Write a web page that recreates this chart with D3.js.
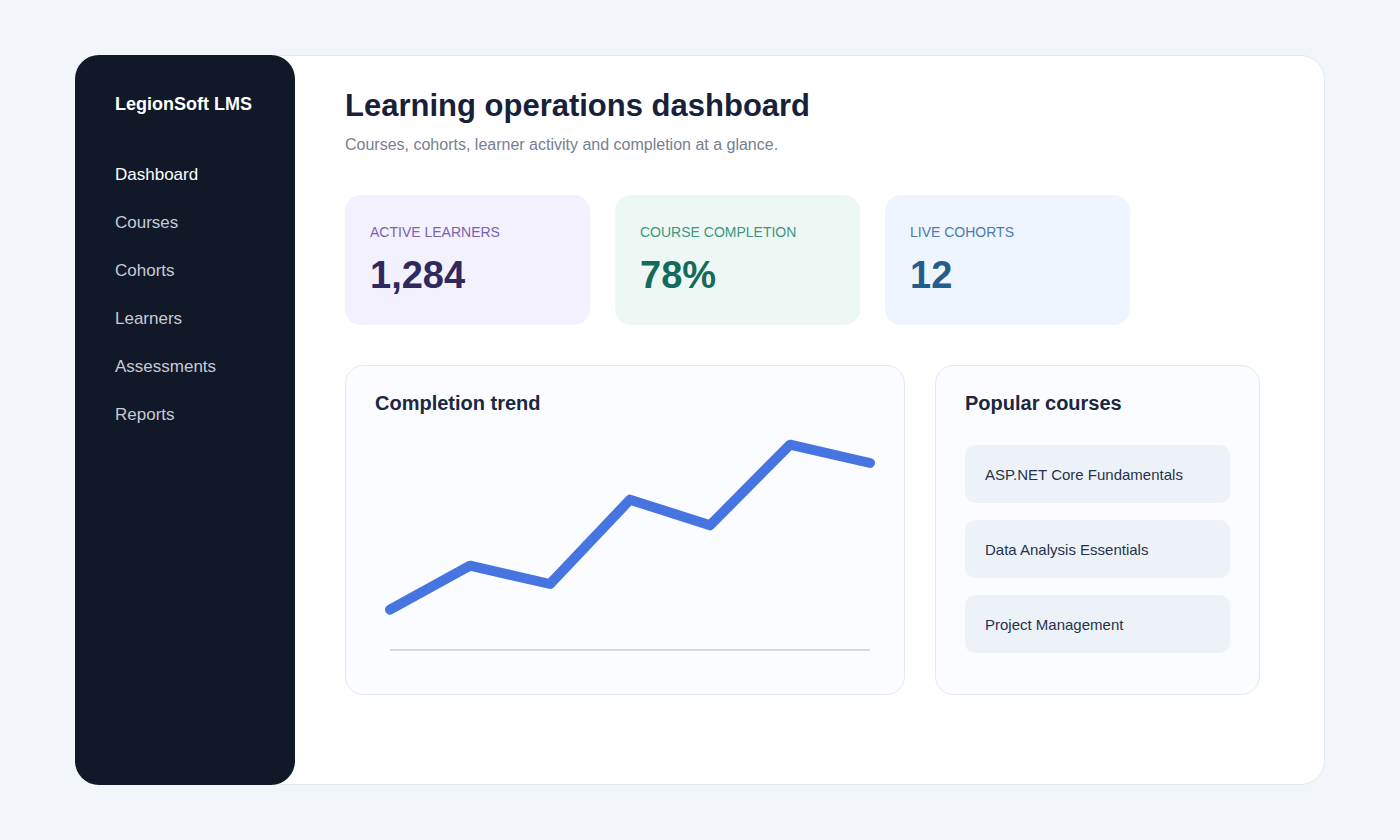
<!DOCTYPE html>
<html>
<head>
<meta charset="utf-8">
<script src="https://cdn.jsdelivr.net/npm/d3@7"></script>
<style>
  body { margin: 0; background: #f2f5fa; font-family: "Liberation Sans", Arial, sans-serif; }
</style>
</head>
<body>
<svg id="chart" width="1400" height="840"></svg>
<script>
'use strict';

const navItems = ['Dashboard', 'Courses', 'Cohorts', 'Learners', 'Assessments', 'Reports'];
const kpiLabels = ['ACTIVE LEARNERS', 'COURSE COMPLETION', 'LIVE COHORTS'];
const kpiValues = ['1,284', '78%', '12'];
const kpiColors = [
  {bg: '#f4f1fe', label: '#7a62b3', value: '#2f2960'},
  {bg: '#edf8f5', label: '#3f9580', value: '#146a5c'},
  {bg: '#eef5fe', label: '#4a7bb0', value: '#245c8c'}
];
const trendPeriods = [1, 2, 3, 4, 5, 6, 7];
const trendValues = [51, 63, 58, 81, 74, 96, 91];
const popularCourses = ['ASP.NET Core Fundamentals', 'Data Analysis Essentials', 'Project Management'];

const svg = d3.select('#chart');

// main card
svg.append('rect').attr('x', 75.5).attr('y', 55.5).attr('width', 1249).attr('height', 729)
  .attr('rx', 24).attr('fill', '#fff').attr('stroke', '#e3e8ef');

// sidebar
svg.append('rect').attr('x', 75).attr('y', 55).attr('width', 220).attr('height', 730).attr('rx', 24).attr('fill', '#111827');

svg.append('text').attr('x', 115).attr('y', 110).text('LegionSoft LMS')
  .attr('fill', '#fff').attr('font-size', 18).attr('font-weight', 'bold');

svg.selectAll('.nav').data(navItems).join('text')
  .attr('x', 115).attr('y', (d, i) => 180 + i * 48)
  .attr('fill', (d, i) => i === 0 ? '#ffffff' : '#c5cbd6')
  .attr('font-size', 17).text(d => d);

// header
svg.append('text').attr('x', 345).attr('y', 116).text('Learning operations dashboard')
  .attr('fill', '#17213a').attr('font-size', 31).attr('font-weight', 'bold');
svg.append('text').attr('x', 345).attr('y', 150).text('Courses, cohorts, learner activity and completion at a glance.')
  .attr('fill', '#768093').attr('font-size', 16);

// KPI cards
const kpi = svg.selectAll('.kpi').data(kpiLabels).join('g')
  .attr('transform', (d, i) => `translate(${345 + i * 270},195)`);
kpi.append('rect').attr('width', 245).attr('height', 130).attr('rx', 16)
  .attr('fill', (d, i) => kpiColors[i].bg);
kpi.append('text').attr('x', 25).attr('y', 42).text(d => d)
  .attr('fill', (d, i) => kpiColors[i].label).attr('font-size', 14);
kpi.append('text').attr('x', 25).attr('y', 93).text((d, i) => kpiValues[i])
  .attr('fill', (d, i) => kpiColors[i].value).attr('font-size', 38).attr('font-weight', 'bold');

// trend panel
svg.append('rect').attr('x', 345.5).attr('y', 365.5).attr('width', 559).attr('height', 329)
  .attr('rx', 18).attr('fill', '#fafcff').attr('stroke', '#e3e8ef');
svg.append('text').attr('x', 375).attr('y', 410).text('Completion trend')
  .attr('fill', '#1c2740').attr('font-size', 20).attr('font-weight', 'bold');

const x = d3.scaleLinear().domain([1, 7]).range([390, 870]);
const y = d3.scaleLinear().domain([40, 100]).range([650, 430]);

svg.append('line').attr('x1', 390).attr('x2', 870).attr('y1', y(40)).attr('y2', y(40))
  .attr('stroke', '#d5dae2').attr('stroke-width', 2);

const line = d3.line().x((d, i) => x(trendPeriods[i])).y(d => y(d));
svg.append('path').datum(trendValues).attr('d', line)
  .attr('fill', 'none').attr('stroke', '#4674e0').attr('stroke-width', 10)
  .attr('stroke-linecap', 'round').attr('stroke-linejoin', 'round');

// popular courses
svg.append('rect').attr('x', 935.5).attr('y', 365.5).attr('width', 324).attr('height', 329)
  .attr('rx', 18).attr('fill', '#fafcff').attr('stroke', '#e3e8ef');
svg.append('text').attr('x', 965).attr('y', 410).text('Popular courses')
  .attr('fill', '#1c2740').attr('font-size', 20).attr('font-weight', 'bold');

const course = svg.selectAll('.course').data(popularCourses).join('g')
  .attr('transform', (d, i) => `translate(965,${445 + i * 75})`);
course.append('rect').attr('width', 265).attr('height', 58).attr('rx', 10).attr('fill', '#edf2f9');
course.append('text').attr('x', 20).attr('y', 35).text(d => d)
  .attr('fill', '#27324a').attr('font-size', 15);
</script>
</body>
</html>
